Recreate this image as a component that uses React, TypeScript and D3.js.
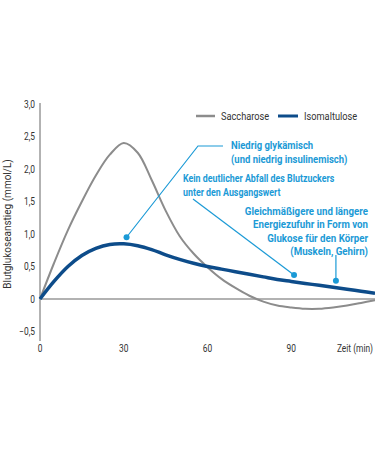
import React from "react";
import * as d3 from "d3";

const times = [0, 5, 10, 15, 20, 25, 30, 35, 40, 45, 50, 55, 60, 65, 70, 75, 80, 85, 90, 95, 100, 105, 110, 115, 120];
const saccharose = [0, 0.55, 1.06, 1.5, 1.9, 2.22, 2.4, 2.25, 1.83, 1.36, 0.97, 0.7, 0.49, 0.31, 0.17, 0.05, -0.04, -0.1, -0.13, -0.15, -0.15, -0.13, -0.1, -0.06, -0.02];
const isomaltulose = [0, 0.27, 0.5, 0.67, 0.78, 0.84, 0.85, 0.82, 0.76, 0.68, 0.61, 0.55, 0.5, 0.46, 0.42, 0.38, 0.34, 0.3, 0.27, 0.24, 0.21, 0.18, 0.15, 0.12, 0.09];
const yTicks = [3.0, 2.5, 2.0, 1.5, 1.0, 0.5, 0, -0.5];
const xTicks = [0, 30, 60, 90];
const seriesNames = ["Saccharose", "Isomaltulose"];
const notes = [
  { lines: ["Niedrig glykämisch", "(und niedrig insulinemisch)"], t: 31, v: 0.95 },
  { lines: ["Kein deutlicher Abfall des Blutzuckers", "unter den Ausgangswert"], t: 91, v: 0.37 },
  { lines: ["Gleichmäßigere und längere", "Energiezufuhr in Form von", "Glukose für den Körper", "(Muskeln, Gehirn)"], t: 106, v: 0.28 },
];

const FONT = "Roboto, Arial, sans-serif";
const BLUE = "#1b9ad6";
const DARK = "#0d4c8a";
const GREY = "#8c8c8c";
const SX = 0.84;

function NText({ x, y, anchor = "start", size = 10, bold = false, fill = "#333", sx = SX, children }: any) {
  return (
    <text
      transform={`translate(${x},${y}) scale(${sx},1)`}
      fontSize={size}
      fontWeight={bold ? "bold" : "normal"}
      textAnchor={anchor}
      fill={fill}
    >
      {children}
    </text>
  );
}

export default function App() {
  const x = d3.scaleLinear().domain([0, 120]).range([40, 375]);
  const y = d3.scaleLinear().domain([-0.5, 3.0]).range([331.5, 104]);
  const line = d3
    .line<number>()
    .x((_, i) => x(times[i]))
    .y((d) => y(d))
    .curve(d3.curveCatmullRom.alpha(0.5));

  const p1 = [x(notes[0].t), y(notes[0].v)];
  const p2 = [x(notes[1].t), y(notes[1].v)];
  const p3 = [x(notes[2].t), y(notes[2].v)];

  return (
    <svg width={375} height={450} style={{ position: "absolute", left: 0, top: 0, background: "#fff" }} fontFamily={FONT}>
      {/* y axis */}
      <line x1={40} x2={40} y1={103} y2={341} stroke="#666" strokeWidth={1} />
      {yTicks.map((t) => (
        <NText key={t} x={35} y={y(t) + 3.5} anchor="end">
          {t === 0 ? "0" : (t < 0 ? "\u2212" : "") + Math.abs(t).toFixed(1).replace(".", ",")}
        </NText>
      ))}
      <text transform={`translate(11,224) rotate(-90)`} fontSize={10} textAnchor="middle" fill="#333">
        Blutglukoseanstieg (mmol/L)
      </text>
      {/* x ticks */}
      {xTicks.map((t) => (
        <NText key={t} x={x(t)} y={352} anchor="middle">
          {t}
        </NText>
      ))}
      <NText x={373} y={352} anchor="end">
        Zeit (min)
      </NText>
      {/* zero line */}
      <line x1={40} x2={375} y1={y(0)} y2={y(0)} stroke="#999" strokeWidth={1.5} />
      {/* series */}
      <path d={line(saccharose) || ""} fill="none" stroke={GREY} strokeWidth={2} />
      <path d={line(isomaltulose) || ""} fill="none" stroke={DARK} strokeWidth={3.5} />
      {/* legend */}
      <line x1={196} x2={215} y1={116} y2={116} stroke={GREY} strokeWidth={2.5} />
      <NText x={221} y={119.5} size={11}>
        {seriesNames[0]}
      </NText>
      <line x1={278} x2={298} y1={116} y2={116} stroke={DARK} strokeWidth={3} />
      <NText x={304} y={119.5} size={11}>
        {seriesNames[1]}
      </NText>
      {/* annotations */}
      <polyline points={`${p1[0]},${p1[1]} 198,146 223,146`} fill="none" stroke={BLUE} strokeWidth={1.2} />
      <circle cx={p1[0]} cy={p1[1]} r={3} fill={BLUE} />
      {notes[0].lines.map((l, i) => (
        <NText key={i} x={231} y={149 + i * 13.5} bold fill={BLUE} size={10.8} sx={0.88}>
          {l}
        </NText>
      ))}
      <line x1={193} y1={199} x2={p2[0]} y2={p2[1]} stroke={BLUE} strokeWidth={1.2} />
      <circle cx={p2[0]} cy={p2[1]} r={3} fill={BLUE} />
      {notes[1].lines.map((l, i) => (
        <NText key={i} x={183} y={182 + i * 13.5} bold fill={BLUE} size={10.8} sx={0.82}>
          {l}
        </NText>
      ))}
      <line x1={p3[0]} y1={255} x2={p3[0]} y2={p3[1]} stroke={BLUE} strokeWidth={1.2} />
      <circle cx={p3[0]} cy={p3[1]} r={3} fill={BLUE} />
      {notes[2].lines.map((l, i) => (
        <NText key={i} x={368} y={215 + i * 13.4} bold fill={BLUE} anchor="end" size={10.8} sx={0.9}>
          {l}
        </NText>
      ))}
    </svg>
  );
}
